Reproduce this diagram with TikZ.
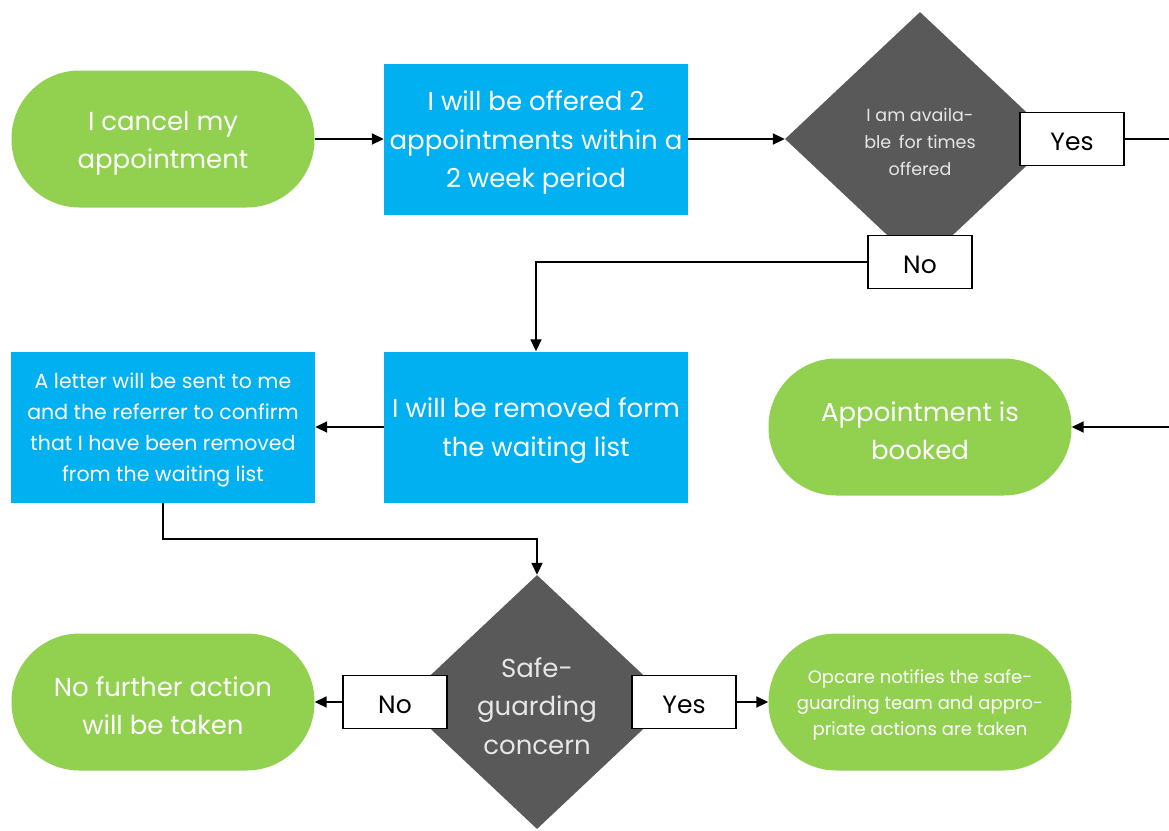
\documentclass[tikz,border=0pt]{standalone}
\usepackage{fontspec}
\setmainfont{Poppins}
\usetikzlibrary{shapes.geometric,arrows.meta}
\definecolor{tgreen}{HTML}{92D050}
\definecolor{tblue}{HTML}{00B0F0}
\definecolor{tgray}{HTML}{595959}
\definecolor{ltext}{HTML}{E6E6E6}
\newcommand{\lw}{\rule{0pt}{1.05em}}
\tikzset{
  term/.style={fill=tgreen,text=white,rounded corners=68pt,minimum width=303pt,minimum height=137pt,inner sep=0pt,align=center},
  proc/.style={fill=tblue,text=white,minimum width=304pt,minimum height=151pt,inner sep=0pt,align=center},
  dec/.style={diamond,fill=tgray,text=ltext,minimum width=270pt,minimum height=254pt,inner sep=0pt,align=center},
  lbl/.style={draw=black,line width=1.5pt,fill=white,minimum width=104pt,minimum height=53pt,inner sep=0pt,font=\fontsize{25}{28}\selectfont,execute at begin node={\rule{0pt}{0.92em}}},
  conn/.style={draw=black,line width=1.8pt},
  arr/.style={conn,-{Triangle[length=12pt,width=11pt]}},
  big/.style={font=\fontsize{26}{38.5}\selectfont},
}
\begin{document}
\begin{tikzpicture}[x=1pt,y=-1pt]
\useasboundingbox (0,0) rectangle (1169,830);
\fill[white] (0,0) rectangle (1169,830);
% top row
\node[term,big] (start) at (163,139) {\lw I cancel my\\appointment};
\node[proc,big] (offer) at (536,139) {\lw I will be offered 2\\appointments within a\\2 week period};
\node[dec,font=\fontsize{17.5}{27}\selectfont] (avail) at (920,139) {\lw I am availa-\\ble\, for times\\offered};
\node[lbl] (yes1) at (1072,139) {Yes};
\node[lbl] (no1) at (920,262) {No};
\coordinate (edge1) at (1169,139);
% middle row
\node[proc,big] (removed) at (536,427) {\lw I will be removed form\\the waiting list};
\node[proc,font=\fontsize{20.5}{31}\selectfont] (letter) at (163,427) {\lw A letter will be sent to me\\and the referrer to confirm\\that I have been removed\\from the waiting list};
\node[term,big] (booked) at (920,427) {\lw Appointment is\\booked};
\coordinate (edge2) at (1169,427);
% bottom row
\node[dec,big] (safe) at (537,702) {\lw Safe-\\guarding\\concern};
\node[lbl] (no2) at (395,702) {No};
\node[lbl] (yes2) at (684,702) {Yes};
\node[term,big] (noact) at (163,702) {\lw No further action\\will be taken};
\node[term,font=\fontsize{18}{26}\selectfont] (opcare) at (920,702) {\lw Opcare notifies the safe-\\guarding team and appro-\\priate actions are taken};
% connectors
\draw[arr] (start.east) -- (offer.west);
\draw[arr] (offer.east) -- (avail.west);
\draw[conn] (yes1.east) -- (edge1);
\draw[arr] (no1.west) -| (removed.north);
\draw[arr] (removed.west) -- (letter.east);
\draw[arr] (edge2) -- (booked.east);
\draw[arr] (letter.south) -- ++(0,36) -| (safe.north);
\draw[arr] (no2.west) -- (noact.east);
\draw[arr] (yes2.east) -- (opcare.west);
\end{tikzpicture}
\end{document}
